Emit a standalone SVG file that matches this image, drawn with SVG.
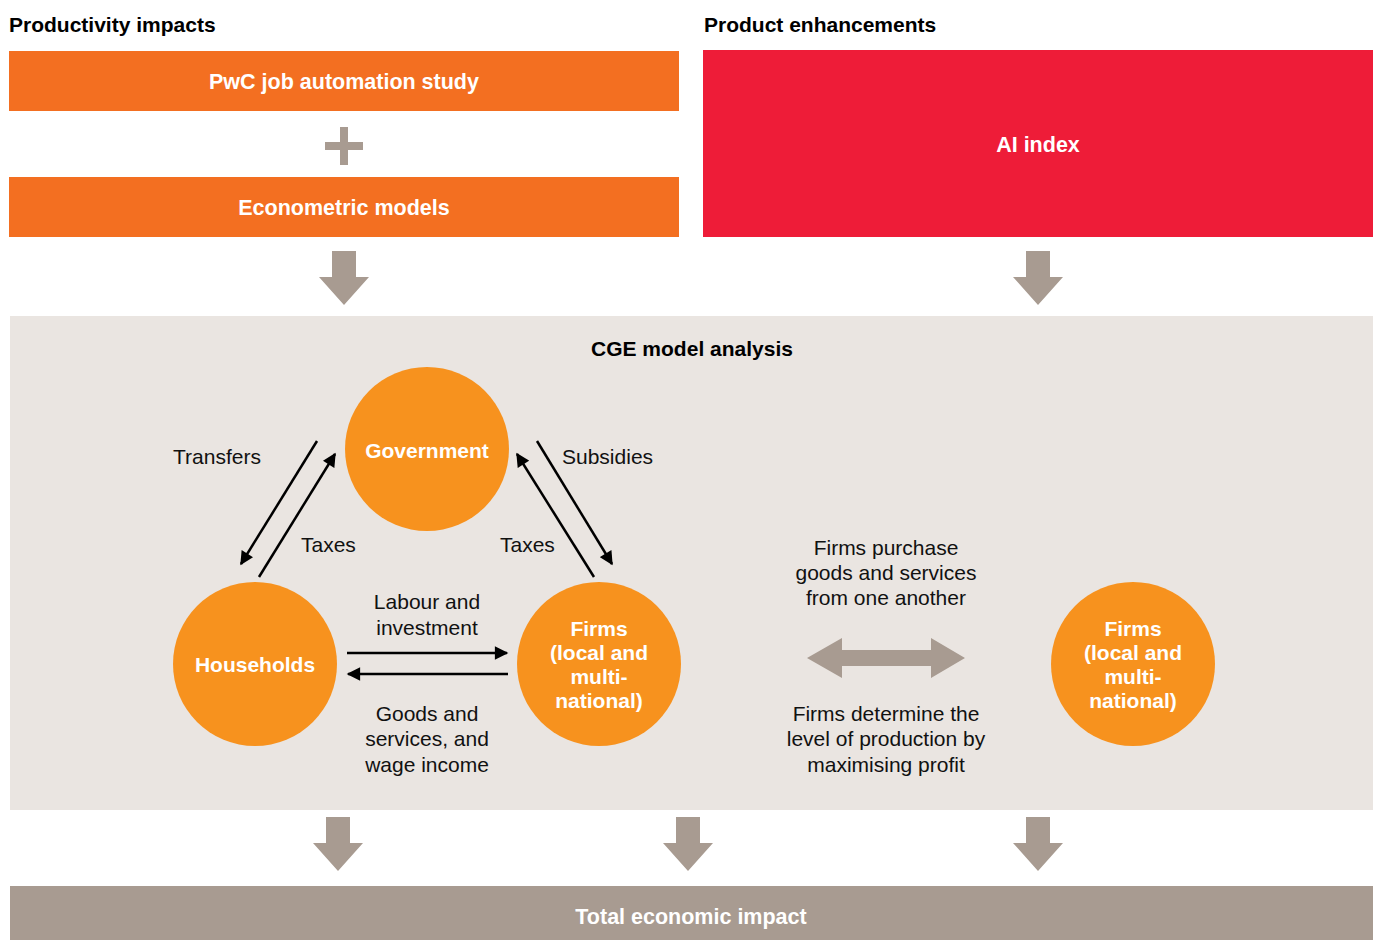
<svg xmlns="http://www.w3.org/2000/svg" width="1380" height="940" viewBox="0 0 1380 940">
<style>
.h{font-family:"Liberation Sans",Arial,sans-serif;font-weight:bold;font-size:21px;fill:#000}
.wb{font-family:"Liberation Sans",Arial,sans-serif;font-weight:bold;font-size:21.5px;fill:#fff;text-anchor:middle}
.cb{font-family:"Liberation Sans",Arial,sans-serif;font-weight:bold;font-size:21px;fill:#fff;text-anchor:middle}
.t{font-family:"Liberation Sans",Arial,sans-serif;font-size:21px;fill:#111}
.tm{text-anchor:middle}
.circ{fill:#F7921E}
.ga{fill:#A89B91}
.ln{stroke:#000;stroke-width:2.5;fill:none;marker-end:url(#ah)}
</style>
<defs>
<marker id="ah" viewBox="0 0 10 10" refX="9" refY="5" markerWidth="6" markerHeight="5.4" markerUnits="strokeWidth" orient="auto">
<path d="M0,0 L10,5 L0,10 Z" fill="#000"/>
</marker>
<path id="down" d="M-12,0 H12 V26 H25 L0,54 L-25,26 H-12 Z"/>
</defs>
<rect width="1380" height="940" fill="#fff"/>

<text class="h" x="9" y="32">Productivity impacts</text>
<text class="h" x="704" y="32">Product enhancements</text>

<g id="pwc">
<rect x="9" y="51" width="670" height="60" fill="#F36F21"/>
<text class="wb" x="344" y="89">PwC job automation study</text>
</g>
<g id="plus">
<rect x="340" y="127" width="8" height="38" class="ga"/>
<rect x="325" y="142" width="38" height="8" class="ga"/>
</g>
<g id="econ">
<rect x="9" y="177" width="670" height="60" fill="#F36F21"/>
<text class="wb" x="344" y="215">Econometric models</text>
</g>
<g id="ai">
<rect x="703" y="50" width="670" height="187" fill="#EE1C38"/>
<text class="wb" x="1038" y="152">AI index</text>
</g>

<g id="cge">
<rect x="10" y="316" width="1363" height="494" fill="#EAE5E1"/>
<text class="h" x="692" y="356" text-anchor="middle">CGE model analysis</text>
</g>

<g id="government">
<circle cx="427" cy="449" r="82" class="circ"/>
<text class="cb" x="427" y="458">Government</text>
</g>
<g id="households">
<circle cx="255" cy="664" r="82" class="circ"/>
<text class="cb" x="255" y="672">Households</text>
</g>
<g id="firms1">
<circle cx="599" cy="664" r="82" class="circ"/>
<text class="cb" x="599" y="636">Firms</text>
<text class="cb" x="599" y="660">(local and</text>
<text class="cb" x="599" y="684">multi-</text>
<text class="cb" x="599" y="708">national)</text>
</g>
<g id="firms2">
<circle cx="1133" cy="664" r="82" class="circ"/>
<text class="cb" x="1133" y="636">Firms</text>
<text class="cb" x="1133" y="660">(local and</text>
<text class="cb" x="1133" y="684">multi-</text>
<text class="cb" x="1133" y="708">national)</text>
</g>

<g id="connectors">
<use href="#down" x="344" y="251" class="ga"/>
<use href="#down" x="1038" y="251" class="ga"/>
<use href="#down" x="338" y="817" class="ga"/>
<use href="#down" x="688" y="817" class="ga"/>
<use href="#down" x="1038" y="817" class="ga"/>
<line class="ln" x1="317" y1="441" x2="241" y2="564"/>
<line class="ln" x1="259" y1="577" x2="335" y2="454"/>
<line class="ln" x1="537" y1="441" x2="612" y2="564"/>
<line class="ln" x1="594" y1="577" x2="517" y2="454"/>
<line class="ln" x1="347" y1="653" x2="507" y2="653"/>
<line class="ln" x1="508" y1="674" x2="348" y2="674"/>
<path class="ga" d="M807,658 L842,638 V650 H931 V638 L965,658 L931,678 V666 H842 V678 Z"/>
</g>

<g id="labels">
<text class="t" x="173" y="464">Transfers</text>
<text class="t" x="301" y="552">Taxes</text>
<text class="t" x="500" y="552">Taxes</text>
<text class="t" x="562" y="464">Subsidies</text>
<text class="t tm" x="427" y="609">Labour and</text>
<text class="t tm" x="427" y="635">investment</text>
<text class="t tm" x="427" y="721">Goods and</text>
<text class="t tm" x="427" y="746">services, and</text>
<text class="t tm" x="427" y="772">wage income</text>
<text class="t tm" x="886" y="555">Firms purchase</text>
<text class="t tm" x="886" y="580">goods and services</text>
<text class="t tm" x="886" y="605">from one another</text>
<text class="t tm" x="886" y="721">Firms determine the</text>
<text class="t tm" x="886" y="746">level of production by</text>
<text class="t tm" x="886" y="772">maximising profit</text>
</g>

<g id="total">
<rect x="10" y="886" width="1363" height="54" fill="#A89B91"/>
<text class="wb" x="691" y="924">Total economic impact</text>
</g>
</svg>
